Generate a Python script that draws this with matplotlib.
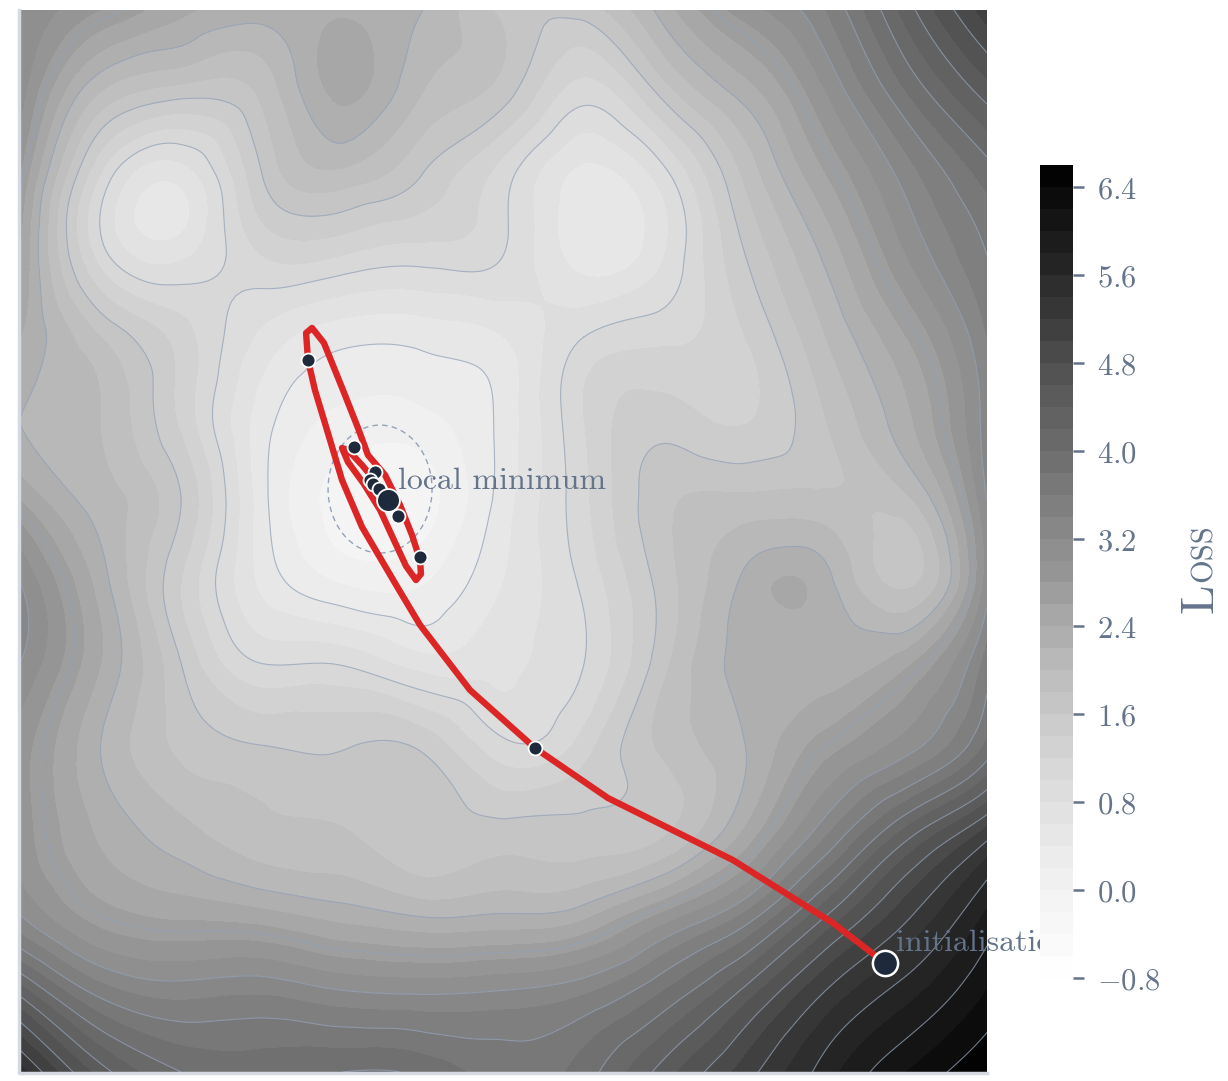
import numpy as np
import matplotlib
matplotlib.use("Agg")
import matplotlib.pyplot as plt
import matplotlib.tri as mtri
from matplotlib.patches import Ellipse
from matplotlib.ticker import FuncFormatter

plt.rcParams["mathtext.fontset"] = "cm"

# loss surface on a coarse grid (rows top -> bottom)
grid_x = [-3.0, -2.5, -2.0, -1.5, -1.0, -0.5, 0.0, 0.5, 1.0, 1.5, 2.0, 2.5, 3.0]
grid_y = [3.25, 2.75, 2.25, 1.75, 1.25, 0.75, 0.25, -0.25, -0.75, -1.25, -1.75, -2.25, -2.75, -3.25]
loss_rows = [
    [3.2, 2.8, 2.45, 2.3, 2.35, 2.2, 1.75, 1.7, 2.3, 2.9, 3.4, 4.3, 5.1],
    [3.1, 2.0, 1.7, 1.85, 2.45, 2.0, 1.7, 1.1, 1.7, 2.3, 3.0, 3.8, 4.5],
    [2.8, 1.2, 0.7, 1.6, 1.95, 1.6, 1.1, 0.55, 0.95, 1.85, 2.6, 3.3, 3.9],
    [2.6, 1.1, 0.75, 1.2, 1.2, 1.1, 1.0, 0.5, 0.8, 1.6, 2.25, 3.0, 3.6],
    [2.4, 1.8, 1.3, 0.75, 0.47, 0.47, 0.6, 1.0, 1.15, 1.4, 2.0, 2.6, 3.4],
    [2.2, 2.0, 1.35, 0.5, 0.15, 0.15, 0.47, 1.2, 1.5, 1.38, 1.8, 2.35, 3.3],
    [2.6, 2.1, 1.6, 0.48, -0.1, -0.1, 0.5, 1.15, 1.75, 1.85, 1.85, 1.95, 3.2],
    [3.2, 2.3, 1.4, 0.55, 0.18, 0.18, 0.6, 1.05, 1.7, 2.25, 2.27, 1.75, 3.1],
    [3.2, 2.4, 1.6, 1.0, 0.98, 0.7, 0.75, 1.0, 1.75, 2.28, 2.3, 2.55, 3.5],
    [2.9, 2.2, 1.75, 1.6, 1.58, 1.55, 1.05, 1.3, 1.85, 2.2, 2.7, 3.1, 3.85],
    [2.9, 2.35, 2.05, 1.85, 1.8, 1.65, 1.65, 1.65, 1.75, 2.4, 3.3, 4.2, 5.0],
    [3.15, 2.65, 2.5, 2.4, 2.25, 2.1, 2.15, 2.25, 2.75, 3.35, 4.3, 5.1, 5.8],
    [4.3, 3.5, 3.3, 3.35, 3.2, 3.15, 3.2, 3.35, 3.8, 4.45, 5.2, 5.7, 6.2],
    [5.5, 4.5, 4.0, 3.9, 4.0, 3.95, 3.7, 3.9, 4.5, 5.1, 5.7, 6.2, 6.6],
]
# loss values where the thin contour lines sit
line_levels = [-0.2, 0.4, 1.0, 1.6, 2.2, 2.7, 3.2, 3.6, 4.0, 4.4, 4.8, 5.2, 5.6, 6.0, 6.4]

# optimiser trajectory
path_x = [2.367, 2.044, 1.424, 0.648, 0.195, -0.208, -0.518, -0.655, -0.878, -1.002,
          -1.095, -1.170, -1.213, -1.225, -1.188, -1.114, -0.996, -0.903, -0.841, -0.735,
          -0.642, -0.568, -0.518, -0.512, -0.543, -0.605, -0.680, -0.766, -0.866, -0.965,
          -1.002, -0.965, -0.878, -0.791, -0.717]
path_y = [-2.583, -2.338, -1.953, -1.573, -1.267, -0.912, -0.514, -0.288, 0.086, 0.373,
          0.679, 0.924, 1.108, 1.273, 1.304, 1.212, 0.924, 0.692, 0.526, 0.404,
          0.220, 0.037, -0.116, -0.202, -0.239, -0.153, 0.006, 0.190, 0.349, 0.483,
          0.569, 0.557, 0.465, 0.361, 0.251]

# iterates shown as dots
step_x = [0.195, -1.213, -0.928, -0.518, -0.655, -0.797, -0.828, -0.810, -0.773]
step_y = [-1.267, 1.108, 0.575, -0.098, 0.153, 0.422, 0.373, 0.349, 0.318]
init_xy = (2.367, -2.583)
minimum_xy = (-0.717, 0.251)
basin_center = (-0.766, 0.318)
basin_size = (0.645, 0.783)

cbar_ticks = [-0.8, 0.0, 0.8, 1.6, 2.4, 3.2, 4.0, 4.8, 5.6, 6.4]

textColor = "#64748b"
lineColor = "#94a3b8"
pathColor = "#dc2626"
dotColor = "#1e293b"

fig = plt.figure(figsize=(12.28, 10.81), dpi=100)
ax = fig.add_axes([20 / 1228, 9 / 1081, 967 / 1228, 1062 / 1081])
cax = fig.add_axes([1040 / 1228, 103 / 1081, 33 / 1228, 813 / 1081])

gx, gy = np.meshgrid(grid_x, grid_y)
tri = mtri.Triangulation(gx.ravel(), gy.ravel())
refiner = mtri.UniformTriRefiner(tri)
tri_f, z_f = refiner.refine_field(np.array(loss_rows).ravel(), subdiv=4)
z_f = np.clip(z_f, -0.79, 6.59)

levels = np.linspace(-0.8, 6.6, 38)
cf = ax.tricontourf(tri_f, z_f, levels=levels, cmap="Greys", vmin=-0.8, vmax=6.6)
ax.tricontour(tri_f, z_f, levels=line_levels, colors=lineColor, linewidths=0.8, alpha=0.75)

ax.add_patch(Ellipse(basin_center, basin_size[0], basin_size[1], fill=False,
                     edgecolor=lineColor, linestyle=(0, (4, 3)), linewidth=1.0, zorder=3))

ax.plot(path_x, path_y, color=pathColor, linewidth=4.6, solid_joinstyle="round",
        solid_capstyle="round", zorder=4)
ax.scatter(step_x, step_y, s=100, color=dotColor, edgecolors="white", linewidths=1.3, zorder=5)
ax.scatter([minimum_xy[0]], [minimum_xy[1]], s=270, color=dotColor, edgecolors="white",
           linewidths=1.3, zorder=6)
ax.scatter([init_xy[0]], [init_xy[1]], s=330, color=dotColor, edgecolors="white",
           linewidths=1.8, zorder=6)

ax.annotate("local minimum", xy=minimum_xy, xytext=(7, 8), textcoords="offset points",
            ha="left", va="baseline", fontsize=23, family="cmr10", color=textColor, zorder=7)
ax.annotate("initialisation", xy=init_xy, xytext=(8, 8.5), textcoords="offset points",
            ha="left", va="baseline", fontsize=23, family="cmr10", color=textColor,
            zorder=7, annotation_clip=False, clip_on=False)

ax.set_xlim(-3, 3)
ax.set_ylim(-3.25, 3.25)
ax.set_xticks([])
ax.set_yticks([])
for side in ["top", "right"]:
    ax.spines[side].set_visible(False)
for side in ["left", "bottom"]:
    ax.spines[side].set_color("#d5dae2")
    ax.spines[side].set_linewidth(2.5)
    ax.spines[side].set_position(("outward", 1))

cbar = fig.colorbar(cf, cax=cax, ticks=cbar_ticks)
cbar.outline.set_visible(False)
cax.tick_params(length=8, width=1.8, color=textColor, labelcolor=textColor, labelsize=22, pad=9)
cax.yaxis.set_major_formatter(FuncFormatter(lambda v, p: "${:.1f}$".format(v)))

# small-caps "Loss" label
tL = fig.text(1212 / 1228, 1 - 613 / 1081, "L", rotation=90, rotation_mode="anchor",
              ha="left", va="baseline", fontsize=34, family="cmr10", color=textColor)
fig.canvas.draw()
bb = tL.get_window_extent()
fig.text(1212 / 1228, (bb.y1 + 1) / 1081, "OSS", rotation=90, rotation_mode="anchor",
         ha="left", va="baseline", fontsize=22, family="cmr10", color=textColor)

fig.savefig("out.png", dpi=100)
